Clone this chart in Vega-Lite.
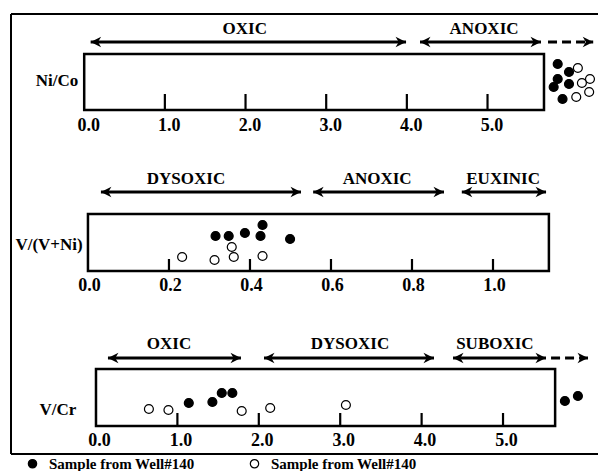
{
"$schema": "https://vega.github.io/schema/vega-lite/v6.json",
"padding": {"left": 10, "top": 13, "right": 0, "bottom": 0},
"background": "white",
"spacing": 0,
"bounds": "flush",
"config": {"view": {"stroke": null}, "font": "Liberation Serif, Times New Roman, serif", "axisX": {"domain": false, "ticks": false, "grid": false, "labelFont": "Liberation Serif, Times New Roman, serif", "labelFontWeight": "bold", "labelFontSize": 18, "labelColor": "black", "labelOverlap": false, "labelFlush": false}},
"datasets": {
"ratios": [
{"panel": "Ni/Co", "min": 0, "max": 5.70},
{"panel": "V/(V+Ni)", "min": 0, "max": 1.138},
{"panel": "V/Cr", "min": 0, "max": 5.64}
],
"ticks": [
{"panel": "Ni/Co", "value": 1}, {"panel": "Ni/Co", "value": 2}, {"panel": "Ni/Co", "value": 3}, {"panel": "Ni/Co", "value": 4}, {"panel": "Ni/Co", "value": 5},
{"panel": "V/(V+Ni)", "value": 0.2}, {"panel": "V/(V+Ni)", "value": 0.4}, {"panel": "V/(V+Ni)", "value": 0.6}, {"panel": "V/(V+Ni)", "value": 0.8}, {"panel": "V/(V+Ni)", "value": 1.0},
{"panel": "V/Cr", "value": 1}, {"panel": "V/Cr", "value": 2}, {"panel": "V/Cr", "value": 3}, {"panel": "V/Cr", "value": 4}, {"panel": "V/Cr", "value": 5}
],
"zones": [
{"panel": "Ni/Co", "zone": "OXIC", "from": 0.08, "to": 3.99, "mid": 1.99, "line": "solid"},
{"panel": "Ni/Co", "zone": "ANOXIC", "from": 4.163, "to": 5.663, "mid": 4.957, "line": "solid"},
{"panel": "Ni/Co", "zone": "", "from": 5.75, "to": 6.31, "mid": 6.03, "line": "dashed"},
{"panel": "V/(V+Ni)", "zone": "DYSOXIC", "from": 0.032, "to": 0.526, "mid": 0.242, "line": "solid"},
{"panel": "V/(V+Ni)", "zone": "ANOXIC", "from": 0.556, "to": 0.879, "mid": 0.714, "line": "solid"},
{"panel": "V/(V+Ni)", "zone": "EUXINIC", "from": 0.923, "to": 1.131, "mid": 1.025, "line": "solid"},
{"panel": "V/Cr", "zone": "OXIC", "from": 0.147, "to": 1.781, "mid": 0.897, "line": "solid"},
{"panel": "V/Cr", "zone": "DYSOXIC", "from": 2.064, "to": 4.152, "mid": 3.12, "line": "solid"},
{"panel": "V/Cr", "zone": "SUBOXIC", "from": 4.386, "to": 5.528, "mid": 4.90, "line": "solid"},
{"panel": "V/Cr", "zone": "", "from": 5.59, "to": 6.044, "mid": 5.8, "line": "dashed"}
],
"points": [
{"panel": "Ni/Co", "value": 5.87, "jitter": 8.6, "sample": "filled"},
{"panel": "Ni/Co", "value": 6.01, "jitter": 7.8, "sample": "filled"},
{"panel": "Ni/Co", "value": 5.87, "jitter": 7.1, "sample": "filled"},
{"panel": "Ni/Co", "value": 5.82, "jitter": 6.3, "sample": "filled"},
{"panel": "Ni/Co", "value": 6.01, "jitter": 6.6, "sample": "filled"},
{"panel": "Ni/Co", "value": 5.93, "jitter": 5.1, "sample": "filled"},
{"panel": "Ni/Co", "value": 6.12, "jitter": 8.2, "sample": "open"},
{"panel": "Ni/Co", "value": 6.27, "jitter": 7.1, "sample": "open"},
{"panel": "Ni/Co", "value": 6.17, "jitter": 6.7, "sample": "open"},
{"panel": "Ni/Co", "value": 6.26, "jitter": 5.8, "sample": "open"},
{"panel": "Ni/Co", "value": 6.10, "jitter": 5.3, "sample": "open"},
{"panel": "V/(V+Ni)", "value": 0.315, "jitter": 6.9, "sample": "filled"},
{"panel": "V/(V+Ni)", "value": 0.3475, "jitter": 6.9, "sample": "filled"},
{"panel": "V/(V+Ni)", "value": 0.3875, "jitter": 7.2, "sample": "filled"},
{"panel": "V/(V+Ni)", "value": 0.426, "jitter": 6.9, "sample": "filled"},
{"panel": "V/(V+Ni)", "value": 0.431, "jitter": 8.0, "sample": "filled"},
{"panel": "V/(V+Ni)", "value": 0.499, "jitter": 6.6, "sample": "filled"},
{"panel": "V/(V+Ni)", "value": 0.2325, "jitter": 4.8, "sample": "open"},
{"panel": "V/(V+Ni)", "value": 0.3125, "jitter": 4.5, "sample": "open"},
{"panel": "V/(V+Ni)", "value": 0.355, "jitter": 5.8, "sample": "open"},
{"panel": "V/(V+Ni)", "value": 0.36, "jitter": 4.8, "sample": "open"},
{"panel": "V/(V+Ni)", "value": 0.431, "jitter": 4.9, "sample": "open"},
{"panel": "V/Cr", "value": 1.14, "jitter": 5.1, "sample": "filled"},
{"panel": "V/Cr", "value": 1.43, "jitter": 5.2, "sample": "filled"},
{"panel": "V/Cr", "value": 1.545, "jitter": 6.1, "sample": "filled"},
{"panel": "V/Cr", "value": 1.675, "jitter": 6.1, "sample": "filled"},
{"panel": "V/Cr", "value": 5.76, "jitter": 5.3, "sample": "filled"},
{"panel": "V/Cr", "value": 5.92, "jitter": 5.8, "sample": "filled"},
{"panel": "V/Cr", "value": 0.65, "jitter": 4.5, "sample": "open"},
{"panel": "V/Cr", "value": 0.89, "jitter": 4.4, "sample": "open"},
{"panel": "V/Cr", "value": 1.79, "jitter": 4.3, "sample": "open"},
{"panel": "V/Cr", "value": 2.14, "jitter": 4.6, "sample": "open"},
{"panel": "V/Cr", "value": 3.07, "jitter": 4.9, "sample": "open"}
]
},
"vconcat": [
{
"width": 588, "height": 136,
"layer": [
{"data": {"values": [{"side": "left"}]}, "mark": {"type": "rule", "color": "black", "strokeWidth": 2},
 "encoding": {"x": {"datum": -0.9075, "type": "quantitative", "scale": {"domain": [-0.9075, 6.382], "nice": false, "zero": false}, "axis": {"values": [0, 1, 2, 3, 4, 5], "format": ".1f", "offset": -40, "labelPadding": 6, "labelOffset": 4, "title": null}}, "y": {"datum": 0, "type": "quantitative", "scale": {"domain": [0, 13.6], "nice": false, "zero": false}, "axis": null}, "y2": {"datum": 13.6}}},
{"data": {"values": [{"side": "top"}]}, "mark": {"type": "rule", "color": "black", "strokeWidth": 2},
 "encoding": {"x": {"datum": -0.9075, "type": "quantitative", "scale": {"domain": [-0.9075, 6.382], "nice": false, "zero": false}, "axis": {"values": [0, 1, 2, 3, 4, 5], "format": ".1f", "offset": -40, "labelPadding": 6, "labelOffset": 4, "title": null}}, "x2": {"datum": 6.382}, "y": {"datum": 13.6, "type": "quantitative", "scale": {"domain": [0, 13.6], "nice": false, "zero": false}, "axis": null}}},
{"data": {"name": "ratios"}, "transform": [{"filter": "datum.panel == 'Ni/Co'"}], "mark": {"type": "rect", "fill": "transparent", "stroke": "black", "strokeWidth": 2.5},
 "encoding": {"x": {"field": "min", "type": "quantitative", "scale": {"domain": [-0.9075, 6.382], "nice": false, "zero": false}, "axis": {"values": [0, 1, 2, 3, 4, 5], "format": ".1f", "offset": -40, "labelPadding": 6, "labelOffset": 4, "title": null}}, "x2": {"field": "max"}, "y": {"datum": 4.0, "type": "quantitative", "scale": {"domain": [0, 13.6], "nice": false, "zero": false}, "axis": null}, "y2": {"datum": 9.6}}},
{"data": {"name": "ticks"}, "transform": [{"filter": "datum.panel == 'Ni/Co'"}], "mark": {"type": "rule", "color": "black", "strokeWidth": 2.2},
 "encoding": {"x": {"field": "value", "type": "quantitative", "scale": {"domain": [-0.9075, 6.382], "nice": false, "zero": false}, "axis": {"values": [0, 1, 2, 3, 4, 5], "format": ".1f", "offset": -40, "labelPadding": 6, "labelOffset": 4, "title": null}}, "y": {"datum": 4.0, "type": "quantitative", "scale": {"domain": [0, 13.6], "nice": false, "zero": false}, "axis": null}, "y2": {"datum": 5.6}}},
{"data": {"name": "zones"}, "transform": [{"filter": "datum.panel == 'Ni/Co'"}], "mark": {"type": "rule", "color": "black", "strokeWidth": 3},
 "encoding": {"x": {"field": "from", "type": "quantitative", "scale": {"domain": [-0.9075, 6.382], "nice": false, "zero": false}, "axis": {"values": [0, 1, 2, 3, 4, 5], "format": ".1f", "offset": -40, "labelPadding": 6, "labelOffset": 4, "title": null}}, "x2": {"field": "to"}, "y": {"datum": 10.8, "type": "quantitative", "scale": {"domain": [0, 13.6], "nice": false, "zero": false}, "axis": null}, "strokeDash": {"field": "line", "type": "nominal", "scale": {"domain": ["solid", "dashed"], "range": [[1, 0], [9, 5]]}, "legend": null}}},
{"data": {"name": "zones"}, "transform": [{"filter": "datum.panel == 'Ni/Co'"}, {"fold": ["from", "to"], "as": ["end", "pos"]}, {"filter": "datum.end == 'to' || datum.line == 'solid'"}], "mark": {"type": "point", "filled": true, "color": "black", "size": 110, "opacity": 1},
 "encoding": {"x": {"field": "pos", "type": "quantitative", "scale": {"domain": [-0.9075, 6.382], "nice": false, "zero": false}, "axis": {"values": [0, 1, 2, 3, 4, 5], "format": ".1f", "offset": -40, "labelPadding": 6, "labelOffset": 4, "title": null}}, "y": {"datum": 10.8, "type": "quantitative", "scale": {"domain": [0, 13.6], "nice": false, "zero": false}, "axis": null}, "shape": {"field": "end", "type": "nominal", "scale": {"domain": ["from", "to"], "range": ["M0,0L2,-1L1.4,0L2,1Z", "M0,0L-2,-1L-1.4,0L-2,1Z"]}, "legend": null}}},
{"data": {"name": "zones"}, "transform": [{"filter": "datum.panel == 'Ni/Co'"}], "mark": {"type": "text", "font": "Liberation Serif, Times New Roman, serif", "fontWeight": "bold", "fontSize": 17, "color": "black"},
 "encoding": {"x": {"field": "mid", "type": "quantitative", "scale": {"domain": [-0.9075, 6.382], "nice": false, "zero": false}, "axis": {"values": [0, 1, 2, 3, 4, 5], "format": ".1f", "offset": -40, "labelPadding": 6, "labelOffset": 4, "title": null}}, "y": {"datum": 12.1, "type": "quantitative", "scale": {"domain": [0, 13.6], "nice": false, "zero": false}, "axis": null}, "text": {"field": "zone"}}},
{"data": {"name": "ratios"}, "transform": [{"filter": "datum.panel == 'Ni/Co'"}], "mark": {"type": "text", "font": "Liberation Serif, Times New Roman, serif", "fontWeight": "bold", "fontSize": 17, "color": "black"},
 "encoding": {"x": {"datum": -0.337, "type": "quantitative", "scale": {"domain": [-0.9075, 6.382], "nice": false, "zero": false}, "axis": {"values": [0, 1, 2, 3, 4, 5], "format": ".1f", "offset": -40, "labelPadding": 6, "labelOffset": 4, "title": null}}, "y": {"datum": 6.9, "type": "quantitative", "scale": {"domain": [0, 13.6], "nice": false, "zero": false}, "axis": null}, "text": {"field": "panel"}}},
{"data": {"name": "points"}, "transform": [{"filter": "datum.panel == 'Ni/Co'"}], "mark": {"type": "point", "shape": "circle", "filled": true, "stroke": "black", "strokeWidth": 1.2, "size": 80, "opacity": 1},
 "encoding": {"x": {"field": "value", "type": "quantitative", "scale": {"domain": [-0.9075, 6.382], "nice": false, "zero": false}, "axis": {"values": [0, 1, 2, 3, 4, 5], "format": ".1f", "offset": -40, "labelPadding": 6, "labelOffset": 4, "title": null}}, "y": {"field": "jitter", "type": "quantitative", "scale": {"domain": [0, 13.6], "nice": false, "zero": false}, "axis": null}, "fill": {"field": "sample", "type": "nominal", "scale": {"domain": ["filled", "open"], "range": ["black", "white"]}, "legend": {"orient": "none", "legendX": 14, "legendY": 442, "direction": "horizontal", "title": null, "labelExpr": "'Sample from Well#140'", "labelFont": "Liberation Serif, Times New Roman, serif", "labelFontWeight": "bold", "labelFontSize": 15, "labelColor": "black", "labelLimit": 300, "labelOffset": 9, "symbolType": "circle", "symbolSize": 70, "symbolStrokeColor": "black", "symbolStrokeWidth": 1.2, "columnPadding": 52, "padding": 0}}}}
]
},
{
"width": 588, "height": 155,
"layer": [
{"data": {"values": [{"side": "left"}]}, "mark": {"type": "rule", "color": "black", "strokeWidth": 2},
 "encoding": {"x": {"datum": -0.19, "type": "quantitative", "scale": {"domain": [-0.19, 1.2617], "nice": false, "zero": false}, "axis": {"values": [0, 0.2, 0.4, 0.6, 0.8, 1.0], "format": ".1f", "offset": -34, "labelPadding": 5, "labelOffset": 1, "title": null}}, "y": {"datum": 0, "type": "quantitative", "scale": {"domain": [0, 15.5], "nice": false, "zero": false}, "axis": null}, "y2": {"datum": 15.5}}},
{"data": {"name": "ratios"}, "transform": [{"filter": "datum.panel == 'V/(V+Ni)'"}], "mark": {"type": "rect", "fill": "transparent", "stroke": "black", "strokeWidth": 2.5},
 "encoding": {"x": {"field": "min", "type": "quantitative", "scale": {"domain": [-0.19, 1.2617], "nice": false, "zero": false}, "axis": {"values": [0, 0.2, 0.4, 0.6, 0.8, 1.0], "format": ".1f", "offset": -34, "labelPadding": 5, "labelOffset": 1, "title": null}}, "x2": {"field": "max"}, "y": {"datum": 3.4, "type": "quantitative", "scale": {"domain": [0, 15.5], "nice": false, "zero": false}, "axis": null}, "y2": {"datum": 9.1}}},
{"data": {"name": "ticks"}, "transform": [{"filter": "datum.panel == 'V/(V+Ni)'"}], "mark": {"type": "rule", "color": "black", "strokeWidth": 2.2},
 "encoding": {"x": {"field": "value", "type": "quantitative", "scale": {"domain": [-0.19, 1.2617], "nice": false, "zero": false}, "axis": {"values": [0, 0.2, 0.4, 0.6, 0.8, 1.0], "format": ".1f", "offset": -34, "labelPadding": 5, "labelOffset": 1, "title": null}}, "y": {"datum": 3.4, "type": "quantitative", "scale": {"domain": [0, 15.5], "nice": false, "zero": false}, "axis": null}, "y2": {"datum": 4.6}}},
{"data": {"name": "zones"}, "transform": [{"filter": "datum.panel == 'V/(V+Ni)'"}], "mark": {"type": "rule", "color": "black", "strokeWidth": 3},
 "encoding": {"x": {"field": "from", "type": "quantitative", "scale": {"domain": [-0.19, 1.2617], "nice": false, "zero": false}, "axis": {"values": [0, 0.2, 0.4, 0.6, 0.8, 1.0], "format": ".1f", "offset": -34, "labelPadding": 5, "labelOffset": 1, "title": null}}, "x2": {"field": "to"}, "y": {"datum": 11.3, "type": "quantitative", "scale": {"domain": [0, 15.5], "nice": false, "zero": false}, "axis": null}, "strokeDash": {"field": "line", "type": "nominal", "scale": {"domain": ["solid", "dashed"], "range": [[1, 0], [9, 5]]}, "legend": null}}},
{"data": {"name": "zones"}, "transform": [{"filter": "datum.panel == 'V/(V+Ni)'"}, {"fold": ["from", "to"], "as": ["end", "pos"]}, {"filter": "datum.end == 'to' || datum.line == 'solid'"}], "mark": {"type": "point", "filled": true, "color": "black", "size": 110, "opacity": 1},
 "encoding": {"x": {"field": "pos", "type": "quantitative", "scale": {"domain": [-0.19, 1.2617], "nice": false, "zero": false}, "axis": {"values": [0, 0.2, 0.4, 0.6, 0.8, 1.0], "format": ".1f", "offset": -34, "labelPadding": 5, "labelOffset": 1, "title": null}}, "y": {"datum": 11.3, "type": "quantitative", "scale": {"domain": [0, 15.5], "nice": false, "zero": false}, "axis": null}, "shape": {"field": "end", "type": "nominal", "scale": {"domain": ["from", "to"], "range": ["M0,0L2,-1L1.4,0L2,1Z", "M0,0L-2,-1L-1.4,0L-2,1Z"]}, "legend": null}}},
{"data": {"name": "zones"}, "transform": [{"filter": "datum.panel == 'V/(V+Ni)'"}], "mark": {"type": "text", "font": "Liberation Serif, Times New Roman, serif", "fontWeight": "bold", "fontSize": 17, "color": "black"},
 "encoding": {"x": {"field": "mid", "type": "quantitative", "scale": {"domain": [-0.19, 1.2617], "nice": false, "zero": false}, "axis": {"values": [0, 0.2, 0.4, 0.6, 0.8, 1.0], "format": ".1f", "offset": -34, "labelPadding": 5, "labelOffset": 1, "title": null}}, "y": {"datum": 12.6, "type": "quantitative", "scale": {"domain": [0, 15.5], "nice": false, "zero": false}, "axis": null}, "text": {"field": "zone"}}},
{"data": {"name": "ratios"}, "transform": [{"filter": "datum.panel == 'V/(V+Ni)'"}], "mark": {"type": "text", "font": "Liberation Serif, Times New Roman, serif", "fontWeight": "bold", "fontSize": 17, "color": "black"},
 "encoding": {"x": {"datum": -0.096, "type": "quantitative", "scale": {"domain": [-0.19, 1.2617], "nice": false, "zero": false}, "axis": {"values": [0, 0.2, 0.4, 0.6, 0.8, 1.0], "format": ".1f", "offset": -34, "labelPadding": 5, "labelOffset": 1, "title": null}}, "y": {"datum": 6.0, "type": "quantitative", "scale": {"domain": [0, 15.5], "nice": false, "zero": false}, "axis": null}, "text": {"field": "panel"}}},
{"data": {"name": "points"}, "transform": [{"filter": "datum.panel == 'V/(V+Ni)'"}], "mark": {"type": "point", "shape": "circle", "filled": true, "stroke": "black", "strokeWidth": 1.2, "size": 80, "opacity": 1},
 "encoding": {"x": {"field": "value", "type": "quantitative", "scale": {"domain": [-0.19, 1.2617], "nice": false, "zero": false}, "axis": {"values": [0, 0.2, 0.4, 0.6, 0.8, 1.0], "format": ".1f", "offset": -34, "labelPadding": 5, "labelOffset": 1, "title": null}}, "y": {"field": "jitter", "type": "quantitative", "scale": {"domain": [0, 15.5], "nice": false, "zero": false}, "axis": null}, "fill": {"field": "sample", "type": "nominal", "scale": {"domain": ["filled", "open"], "range": ["black", "white"]}, "legend": {"orient": "none", "legendX": 14, "legendY": 442, "direction": "horizontal", "title": null, "labelExpr": "'Sample from Well#140'", "labelFont": "Liberation Serif, Times New Roman, serif", "labelFontWeight": "bold", "labelFontSize": 15, "labelColor": "black", "labelLimit": 300, "labelOffset": 9, "symbolType": "circle", "symbolSize": 70, "symbolStrokeColor": "black", "symbolStrokeWidth": 1.2, "columnPadding": 52, "padding": 0}}}}
]
},
{
"width": 588, "height": 149,
"layer": [
{"data": {"values": [{"side": "left"}]}, "mark": {"type": "rule", "color": "black", "strokeWidth": 2},
 "encoding": {"x": {"datum": -1.044, "type": "quantitative", "scale": {"domain": [-1.044, 6.179], "nice": false, "zero": false}, "axis": {"values": [0, 1, 2, 3, 4, 5], "format": ".1f", "offset": -28, "labelPadding": 5, "labelOffset": 3, "title": null}}, "y": {"datum": 0, "type": "quantitative", "scale": {"domain": [0, 14.9], "nice": false, "zero": false}, "axis": null}, "y2": {"datum": 14.9}}},
{"data": {"values": [{"side": "bottom"}]}, "mark": {"type": "rule", "color": "black", "strokeWidth": 2},
 "encoding": {"x": {"datum": -1.044, "type": "quantitative", "scale": {"domain": [-1.044, 6.179], "nice": false, "zero": false}, "axis": {"values": [0, 1, 2, 3, 4, 5], "format": ".1f", "offset": -28, "labelPadding": 5, "labelOffset": 3, "title": null}}, "x2": {"datum": 6.179}, "y": {"datum": 0, "type": "quantitative", "scale": {"domain": [0, 14.9], "nice": false, "zero": false}, "axis": null}}},
{"data": {"name": "ratios"}, "transform": [{"filter": "datum.panel == 'V/Cr'"}], "mark": {"type": "rect", "fill": "transparent", "stroke": "black", "strokeWidth": 2.5},
 "encoding": {"x": {"field": "min", "type": "quantitative", "scale": {"domain": [-1.044, 6.179], "nice": false, "zero": false}, "axis": {"values": [0, 1, 2, 3, 4, 5], "format": ".1f", "offset": -28, "labelPadding": 5, "labelOffset": 3, "title": null}}, "x2": {"field": "max"}, "y": {"datum": 2.8, "type": "quantitative", "scale": {"domain": [0, 14.9], "nice": false, "zero": false}, "axis": null}, "y2": {"datum": 8.5}}},
{"data": {"name": "ticks"}, "transform": [{"filter": "datum.panel == 'V/Cr'"}], "mark": {"type": "rule", "color": "black", "strokeWidth": 2.2},
 "encoding": {"x": {"field": "value", "type": "quantitative", "scale": {"domain": [-1.044, 6.179], "nice": false, "zero": false}, "axis": {"values": [0, 1, 2, 3, 4, 5], "format": ".1f", "offset": -28, "labelPadding": 5, "labelOffset": 3, "title": null}}, "y": {"datum": 2.8, "type": "quantitative", "scale": {"domain": [0, 14.9], "nice": false, "zero": false}, "axis": null}, "y2": {"datum": 4.1}}},
{"data": {"name": "zones"}, "transform": [{"filter": "datum.panel == 'V/Cr'"}], "mark": {"type": "rule", "color": "black", "strokeWidth": 3},
 "encoding": {"x": {"field": "from", "type": "quantitative", "scale": {"domain": [-1.044, 6.179], "nice": false, "zero": false}, "axis": {"values": [0, 1, 2, 3, 4, 5], "format": ".1f", "offset": -28, "labelPadding": 5, "labelOffset": 3, "title": null}}, "x2": {"field": "to"}, "y": {"datum": 9.6, "type": "quantitative", "scale": {"domain": [0, 14.9], "nice": false, "zero": false}, "axis": null}, "strokeDash": {"field": "line", "type": "nominal", "scale": {"domain": ["solid", "dashed"], "range": [[1, 0], [9, 5]]}, "legend": null}}},
{"data": {"name": "zones"}, "transform": [{"filter": "datum.panel == 'V/Cr'"}, {"fold": ["from", "to"], "as": ["end", "pos"]}, {"filter": "datum.end == 'to' || datum.line == 'solid'"}], "mark": {"type": "point", "filled": true, "color": "black", "size": 110, "opacity": 1},
 "encoding": {"x": {"field": "pos", "type": "quantitative", "scale": {"domain": [-1.044, 6.179], "nice": false, "zero": false}, "axis": {"values": [0, 1, 2, 3, 4, 5], "format": ".1f", "offset": -28, "labelPadding": 5, "labelOffset": 3, "title": null}}, "y": {"datum": 9.6, "type": "quantitative", "scale": {"domain": [0, 14.9], "nice": false, "zero": false}, "axis": null}, "shape": {"field": "end", "type": "nominal", "scale": {"domain": ["from", "to"], "range": ["M0,0L2,-1L1.4,0L2,1Z", "M0,0L-2,-1L-1.4,0L-2,1Z"]}, "legend": null}}},
{"data": {"name": "zones"}, "transform": [{"filter": "datum.panel == 'V/Cr'"}], "mark": {"type": "text", "font": "Liberation Serif, Times New Roman, serif", "fontWeight": "bold", "fontSize": 17, "color": "black"},
 "encoding": {"x": {"field": "mid", "type": "quantitative", "scale": {"domain": [-1.044, 6.179], "nice": false, "zero": false}, "axis": {"values": [0, 1, 2, 3, 4, 5], "format": ".1f", "offset": -28, "labelPadding": 5, "labelOffset": 3, "title": null}}, "y": {"datum": 11.0, "type": "quantitative", "scale": {"domain": [0, 14.9], "nice": false, "zero": false}, "axis": null}, "text": {"field": "zone"}}},
{"data": {"name": "ratios"}, "transform": [{"filter": "datum.panel == 'V/Cr'"}], "mark": {"type": "text", "font": "Liberation Serif, Times New Roman, serif", "fontWeight": "bold", "fontSize": 17, "color": "black"},
 "encoding": {"x": {"datum": -0.467, "type": "quantitative", "scale": {"domain": [-1.044, 6.179], "nice": false, "zero": false}, "axis": {"values": [0, 1, 2, 3, 4, 5], "format": ".1f", "offset": -28, "labelPadding": 5, "labelOffset": 3, "title": null}}, "y": {"datum": 4.4, "type": "quantitative", "scale": {"domain": [0, 14.9], "nice": false, "zero": false}, "axis": null}, "text": {"field": "panel"}}},
{"data": {"name": "points"}, "transform": [{"filter": "datum.panel == 'V/Cr'"}], "mark": {"type": "point", "shape": "circle", "filled": true, "stroke": "black", "strokeWidth": 1.2, "size": 80, "opacity": 1},
 "encoding": {"x": {"field": "value", "type": "quantitative", "scale": {"domain": [-1.044, 6.179], "nice": false, "zero": false}, "axis": {"values": [0, 1, 2, 3, 4, 5], "format": ".1f", "offset": -28, "labelPadding": 5, "labelOffset": 3, "title": null}}, "y": {"field": "jitter", "type": "quantitative", "scale": {"domain": [0, 14.9], "nice": false, "zero": false}, "axis": null}, "fill": {"field": "sample", "type": "nominal", "scale": {"domain": ["filled", "open"], "range": ["black", "white"]}, "legend": {"orient": "none", "legendX": 14, "legendY": 442, "direction": "horizontal", "title": null, "labelExpr": "'Sample from Well#140'", "labelFont": "Liberation Serif, Times New Roman, serif", "labelFontWeight": "bold", "labelFontSize": 15, "labelColor": "black", "labelLimit": 300, "labelOffset": 9, "symbolType": "circle", "symbolSize": 70, "symbolStrokeColor": "black", "symbolStrokeWidth": 1.2, "columnPadding": 52, "padding": 0}}}}
]
}
]
}
